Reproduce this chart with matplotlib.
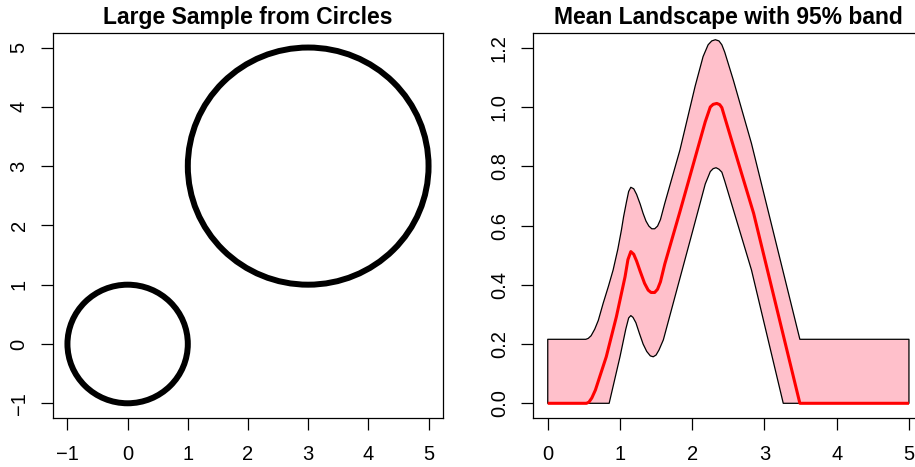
import matplotlib
matplotlib.use("Agg")
import matplotlib.pyplot as plt
from matplotlib.patches import Circle

plt.rcParams['font.family'] = ['Liberation Sans', 'DejaVu Sans']

# ---- Left panel data: circles (centre x, centre y, radius)
circle_cx = [0, 3]
circle_cy = [0, 3]
circle_r = [1, 2]
left_ticks = [-1, 0, 1, 2, 3, 4, 5]

# ---- Right panel data: mean landscape and 95% band
x_upper = [0.0, 0.527, 0.56, 0.60, 0.65, 0.70, 0.767, 0.84, 0.905, 0.97, 1.02, 1.05, 1.09, 1.12, 1.15, 1.19,
           1.23, 1.28, 1.32, 1.36, 1.40, 1.44, 1.48, 1.52, 1.56, 1.62,
           1.83, 2.04, 2.15, 2.22, 2.27, 2.32, 2.37, 2.41, 2.45, 2.57, 2.82, 3.49, 5.0]
y_upper = [0.216, 0.216, 0.219, 0.228, 0.25, 0.28, 0.3375, 0.395, 0.45, 0.52, 0.585, 0.63, 0.68, 0.715, 0.729, 0.724,
           0.705, 0.672, 0.641, 0.615, 0.598, 0.589, 0.589, 0.598, 0.62, 0.675,
           0.855, 1.07, 1.17, 1.21, 1.223, 1.227, 1.223, 1.21, 1.185, 1.09, 0.877, 0.216, 0.216]

x_mean = [0.0, 0.536, 0.57, 0.61, 0.66, 0.72, 0.81, 0.95, 1.07, 1.11, 1.15, 1.19, 1.23, 1.28, 1.34, 1.39,
          1.43, 1.48, 1.52, 1.56, 1.62, 1.69, 1.83, 2.18, 2.25, 2.29, 2.34, 2.38, 2.41, 2.45, 2.71, 2.85,
          3.49, 5.0]
y_mean = [0.0, 0.0, 0.004, 0.018, 0.045, 0.09, 0.157, 0.292, 0.427, 0.485, 0.512, 0.503, 0.48, 0.445, 0.405, 0.382,
          0.374, 0.374, 0.385, 0.41, 0.47, 0.529, 0.647, 0.95, 1.0, 1.009, 1.012, 1.008, 0.998, 0.965, 0.754, 0.641,
          0.0, 0.0]

x_lower = [0.0, 0.85, 1.0, 1.08, 1.12, 1.15, 1.18, 1.22, 1.27, 1.32, 1.37, 1.42, 1.46, 1.50, 1.54, 1.60,
           2.01, 2.18, 2.25, 2.29, 2.33, 2.37, 2.41, 2.45, 2.82, 3.26, 5.0]
y_lower = [0.0, 0.0, 0.157, 0.25, 0.288, 0.296, 0.29, 0.272, 0.235, 0.2, 0.175, 0.16, 0.157, 0.163, 0.18, 0.214,
           0.585, 0.74, 0.782, 0.792, 0.795, 0.79, 0.78, 0.75, 0.45, 0.0, 0.0]

right_xticks = [0, 1, 2, 3, 4, 5]
right_yticks = [0.0, 0.2, 0.4, 0.6, 0.8, 1.0, 1.2]

W, H = 915, 467
fig = plt.figure(figsize=(W / 100, H / 100), dpi=100)

ax1 = fig.add_axes([53 / W, (H - 417.5) / H, (443 - 53) / W, (417.5 - 33.3) / H])
ax2 = fig.add_axes([533.3 / W, (H - 417.7) / H, (923.4 - 533.3) / W, (417.7 - 33.3) / H])

for cx, cy, r in zip(circle_cx, circle_cy, circle_r):
    ax1.add_patch(Circle((cx, cy), r, fill=False, edgecolor='black', linewidth=4.3))
ax1.set_xlim(-1.24, 5.24)
ax1.set_ylim(-1.24, 5.24)
ax1.set_xticks(left_ticks)
ax1.set_yticks(left_ticks)
ax1.set_title("Large Sample from Circles", fontsize=16.5, fontweight='bold', pad=7)

poly_x = x_upper + x_lower[::-1]
poly_y = y_upper + y_lower[::-1]
ax2.fill(poly_x, poly_y, facecolor='#FFC0CB', edgecolor='black', linewidth=0.9, joinstyle='round')
ax2.plot(x_mean, y_mean, color='#FF0000', linewidth=2.2, solid_capstyle='butt', solid_joinstyle='round')
ax2.set_xlim(-0.2, 5.2)
ax2.set_ylim(-0.0486, 1.2487)
ax2.set_xticks(right_xticks)
ax2.set_xticklabels([str(v) for v in right_xticks])
ax2.set_yticks(right_yticks)
ax2.set_yticklabels([f"{v:.1f}" for v in right_yticks])
ax2.set_title("Mean Landscape with 95% band", fontsize=16.5, fontweight='bold', pad=7)

for ax in (ax1, ax2):
    for s in ax.spines.values():
        s.set_linewidth(0.9)
        s.set_color('black')
    ax.tick_params(direction='out', length=8.6, width=0.9, labelsize=14.5)
    ax.tick_params(axis='x', pad=11)
    ax.tick_params(axis='y', pad=9)
    for lab in ax.get_yticklabels():
        lab.set_rotation(90)
        lab.set_va('center')

fig.savefig("out.png", dpi=100)
